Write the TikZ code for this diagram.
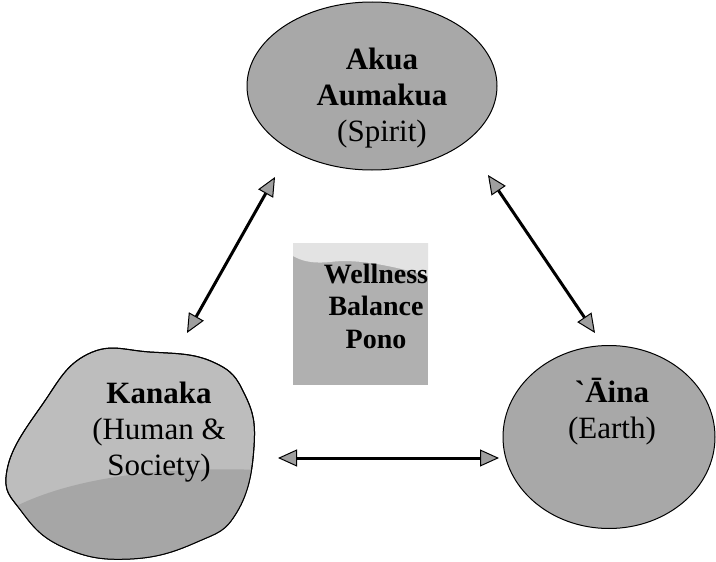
\documentclass[tikz,border=0pt]{standalone}
\usepackage{fontspec}
\setmainfont{Liberation Serif}
\usetikzlibrary{shapes.geometric,arrows.meta}
\begin{document}
\begin{tikzpicture}[x=1pt,y=-1pt,
  blob/.style={draw=black,line width=1pt,fill=gray!70},
  lbl/.style={align=center,inner sep=0pt,font=\fontsize{31}{36}\selectfont},
  boxlbl/.style={align=center,inner sep=0pt,font=\fontsize{28}{32.5}\selectfont\bfseries},
  link/.style={line width=3pt,{Triangle[length=19pt,width=17pt,fill=gray!75,line width=1pt]}-{Triangle[length=19pt,width=17pt,fill=gray!75,line width=1pt]}}
]
\useasboundingbox (0,0) rectangle (716,562);
% top ellipse
\node[ellipse,blob,fill=gray!68,minimum width=250pt,minimum height=168pt,inner sep=0pt] (akua) at (372,86) {};
\node[lbl] (akuat) at (382,98) {\textbf{Akua}\\\textbf{Aumakua}\\(Spirit)};
% right ellipse
\node[ellipse,blob,fill=gray!68,minimum width=212pt,minimum height=183pt,inner sep=0pt] (aina) at (609,437) {};
\node[lbl] (ainat) at (612,412) {\textbf{\textasciigrave Āina}\\(Earth)};
% left blob
\begin{scope}
  \path[blob,fill=gray!52] plot[smooth cycle,tension=0.75] coordinates {(150,352) (213,362) (245,395) (254,447) (237,512) (197,542) (130,559) (65,548) (22,512) (7,470) (42,405) (88,354)};
  \clip plot[smooth cycle,tension=0.75] coordinates {(150,352) (213,362) (245,395) (254,447) (237,512) (197,542) (130,559) (65,548) (22,512) (7,470) (42,405) (88,354)};
  \fill[gray!70] (0,515) .. controls (60,478) and (160,466) .. (260,470) -- (260,562) -- (0,562) -- cycle;
\end{scope}
\draw[line width=1pt] plot[smooth cycle,tension=0.75] coordinates {(150,352) (213,362) (245,395) (254,447) (237,512) (197,542) (130,559) (65,548) (22,512) (7,470) (42,405) (88,354)};
\node[lbl] (kanaka) at (159,432) {\textbf{Kanaka}\\(Human \&\\Society)};
% center box
\fill[gray!62] (293,243) rectangle (428,385);
\fill[gray!22] (293,243) -- (428,243) -- (428,276) .. controls (400,268) and (360,258) .. (330,262) .. controls (310,264) and (300,260) .. (293,256) -- cycle;
\node[inner sep=0pt,minimum width=135pt,minimum height=142pt] (box) at (360.5,314) {};
\node[boxlbl] (boxt) at (376,306) {Wellness\\Balance\\Pono};
% connectors
\coordinate (a1) at (275,177);
\coordinate (k1) at (187,333);
\coordinate (a2) at (488,175);
\coordinate (e1) at (595,333);
\coordinate (k2) at (278,458);
\coordinate (e2) at (499,458);
\draw[link] (a1) -- (k1);
\draw[link] (a2) -- (e1);
\draw[link] (k2) -- (e2);
\end{tikzpicture}
\end{document}
